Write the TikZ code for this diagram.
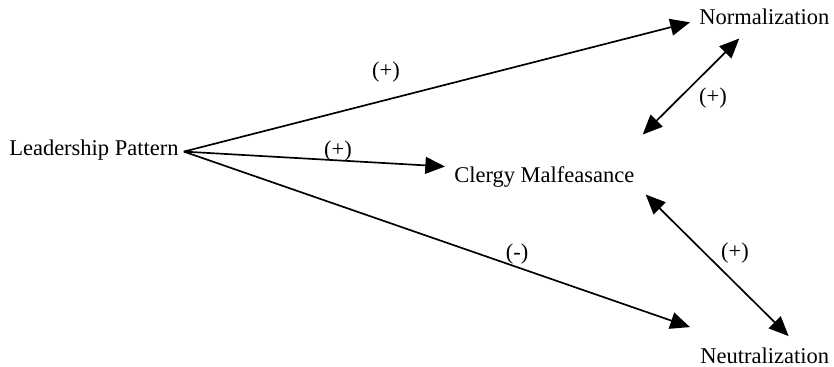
\documentclass[tikz,border=0pt]{standalone}
\usepackage{fontspec}
\setmainfont{Liberation Serif}
\usetikzlibrary{arrows.meta,calc}
\begin{document}
\begin{tikzpicture}[x=0.025cm,y=-0.025cm]
      \tikzset{every node/.style={inner sep=0pt, font=\fontsize{16}{19}\selectfont},
        arr/.style={-{Triangle[length=14pt,width=12pt]}, line width=1.2pt},
        darr/.style={{Triangle[length=14pt,width=12pt]}-{Triangle[length=14pt,width=12pt]}, line width=1.2pt}}
      \path[use as bounding box] (0,0) rectangle (834,367);

      \node[anchor=base west] (lead) at (9,155) {Leadership Pattern};
      \node[anchor=base west] (norm) at (699,25) {Normalization};
      \node[anchor=base west] (clergy) at (454,182) {Clergy Malfeasance};
      \node[anchor=base west] (neut) at (700,363) {Neutralization};

      % signs
      \node (s1) at (386,72) {(+)};
      \node (s2) at (338,151) {(+)};
      \node (s3) at (517,254) {(-)};
      \node (s4) at (713,98) {(+)};
      \node (s5) at (735,253) {(+)};

      \draw[arr] ($(lead.east)+(5,2)$) -- ($(norm.west)+(-9,5)$);
      \draw[arr] ($(lead.east)+(5,2)$) -- ($(clergy.west)+(-9,-10)$);
      \draw[arr] ($(lead.east)+(5,2)$) -- ($(neut.north west)+(-10,-20)$);
      \draw[darr] ($(clergy.east)+(8,-42)$) -- ($(norm.south)+(-25,13)$);
      \draw[darr] ($(clergy.east)+(11,18)$) -- ($(neut.north)+(24,-11)$);
    \end{tikzpicture}
\end{document}
